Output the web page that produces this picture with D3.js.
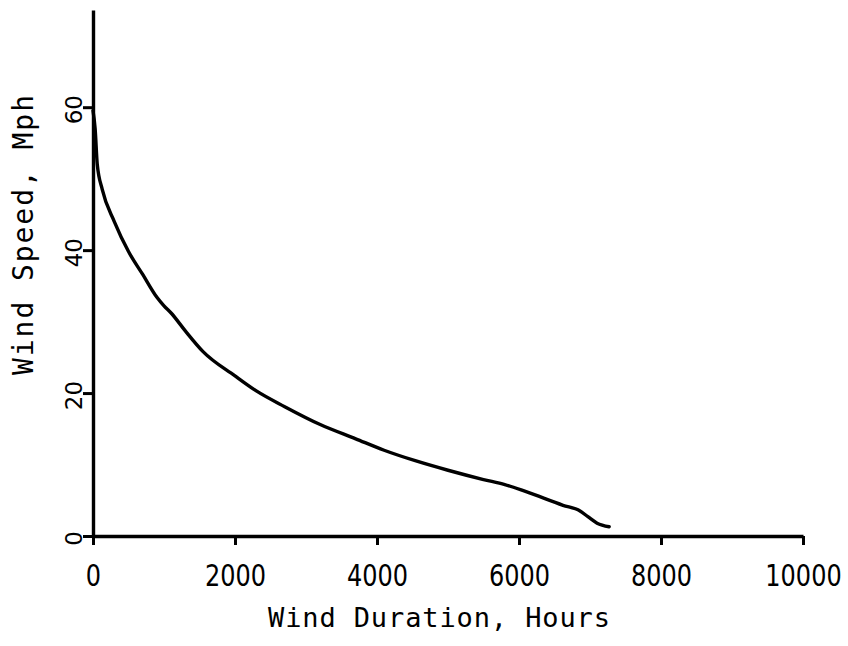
<!DOCTYPE html>
<html>
<head>
<meta charset="utf-8">
<script src="https://cdn.jsdelivr.net/npm/d3@7/dist/d3.min.js"></script>
<style>
  html, body { margin: 0; padding: 0; background: #fff; }
  svg { display: block; }
</style>
</head>
<body>
<svg id="chart" width="848" height="646"></svg>
<script>
// Wind duration curve: hours per year that the wind speed is at or above a given value
const durationHours = [0, 30, 60, 130, 300, 500, 700, 900, 1000, 1100, 1300, 1550, 2000, 2300, 2700, 3200, 3700, 4100, 4550, 5000, 5500, 5800, 6100, 6620, 6860, 6970, 7100, 7270];
const windSpeedMph  = [59.5, 57, 52, 48.5, 44, 39.8, 36.6, 33.4, 32.2, 31.2, 28.7, 25.8, 22.4, 20.3, 18.1, 15.6, 13.6, 12.0, 10.5, 9.2, 7.9, 7.2, 6.2, 4.3, 3.5, 2.7, 1.8, 1.3];

const xTicks = [0, 2000, 4000, 6000, 8000, 10000];
const yTicks = [0, 20, 40, 60];

const xTitle = "Wind Duration, Hours";
const yTitle = "Wind Speed, Mph";

const svg = d3.select("#chart");

const x = d3.scaleLinear().domain([0, 10000]).range([93, 803]);
const y = d3.scaleLinear().domain([0, 73.6]).range([536, 10]);

const ink = "#000";

// x axis
const gx = svg.append("g")
  .attr("transform", `translate(0,${y(0)})`)
  .call(d3.axisBottom(x).tickValues(xTicks).tickSize(9).tickSizeOuter(0).tickFormat(d3.format("d")));
gx.select(".domain").attr("stroke", ink).attr("stroke-width", 3.4);
gx.selectAll(".tick line").attr("stroke", ink).attr("stroke-width", 3);
// narrow digits: squeeze the labels horizontally around the tick
gx.selectAll(".tick text")
  .attr("fill", ink)
  .attr("y", 28)
  .attr("dy", "0.72em")
  .attr("transform", "scale(0.8,1)")
  .style("font-family", "'DejaVu Sans', sans-serif")
  .style("font-size", "30px");

// y axis
const gy = svg.append("g")
  .attr("transform", `translate(${x(0)},0)`)
  .call(d3.axisLeft(y).tickValues(yTicks).tickSize(10).tickSizeOuter(0));
gy.select(".domain").attr("stroke", ink).attr("stroke-width", 3.4);
gy.selectAll(".tick line").attr("stroke", ink).attr("stroke-width", 3);
gy.selectAll(".tick text")
  .attr("fill", ink)
  .attr("x", null).attr("dy", null)
  .attr("text-anchor", "middle")
  .attr("transform", "translate(-11,2) rotate(-90)")
  .style("font-family", "'DejaVu Sans', sans-serif")
  .style("font-size", "23px");

// curve
const line = d3.line()
  .x((d, i) => x(durationHours[i]))
  .y(d => y(d))
  .curve(d3.curveMonotoneX);

svg.append("path")
  .datum(windSpeedMph)
  .attr("d", line)
  .attr("fill", "none")
  .attr("stroke", ink)
  .attr("stroke-width", 3.4)
  .attr("stroke-linejoin", "round")
  .attr("stroke-linecap", "round");

// axis titles
svg.append("text")
  .attr("x", 439)
  .attr("y", 627)
  .attr("text-anchor", "middle")
  .attr("textLength", 342)
  .attr("lengthAdjust", "spacing")
  .style("font-family", "'DejaVu Sans Mono', monospace")
  .style("font-size", "27px")
  .attr("fill", ink)
  .text(xTitle);

svg.append("text")
  .attr("transform", "translate(33,235) rotate(-90)")
  .attr("text-anchor", "middle")
  .attr("textLength", 280)
  .attr("lengthAdjust", "spacing")
  .style("font-family", "'DejaVu Sans Mono', monospace")
  .style("font-size", "28px")
  .attr("fill", ink)
  .text(yTitle);
</script>
</body>
</html>
